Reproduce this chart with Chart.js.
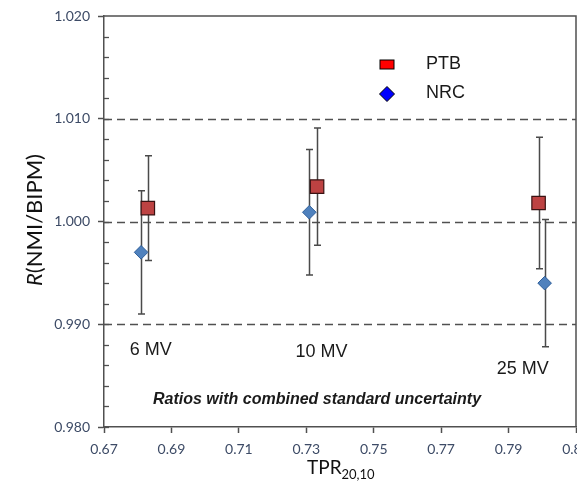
<!DOCTYPE html>
<html lang="en">
<head>
<meta charset="UTF-8">
<title>R(NMI/BIPM) vs TPR20,10</title>
<script src="https://cdn.jsdelivr.net/npm/chart.js"></script>
<style>
    html, body { margin: 0; padding: 0; background: #fff; overflow: hidden; }
</style>
</head>
<body>
<canvas id="ratioChart" width="577" height="491"></canvas>
<script>
// values
const beams = ['6 MV', '10 MV', '25 MV'];
const ptbTpr = [0.683, 0.7332, 0.7989];
const ptbRatio = [1.0013, 1.0034, 1.0018];
const ptbUnc = [0.0051, 0.0057, 0.0064];
const nrcTpr = [0.681, 0.7309, 0.8007];
const nrcRatio = [0.9970, 1.0009, 0.9940];
const nrcUnc = [0.0060, 0.0061, 0.0062];
const xTicks = [0.67, 0.69, 0.71, 0.73, 0.75, 0.77, 0.79, 0.81];
const yTicks = [0.980, 0.990, 1.000, 1.010, 1.020];

// where the beam names sit (data units)
const beamLabelX = [0.6839, 0.7345, 0.7942];
const beamLabelY = [0.9875, 0.9873, 0.9856];

const tickColor = '#3d4b66';
const axisColor = '#505050';

function toPoints(xs, ys) {
    return xs.map((x, i) => ({ x: x, y: ys[i] }));
}

const decorPlugin = {
    id: 'decor',
    beforeDatasetsDraw(chart) {
        const { ctx, chartArea: a, scales: { x, y } } = chart;
        ctx.save();

        // dashed reference lines at the inner major ticks
        ctx.strokeStyle = '#505050';
        ctx.lineWidth = 1.4;
        ctx.setLineDash([8, 5]);
        y.ticks.forEach(t => {
            if (t.value <= y.min + 1e-9 || t.value >= y.max - 1e-9) return;
            const py = Math.round(y.getPixelForValue(t.value)) + 0.5;
            ctx.beginPath();
            ctx.moveTo(a.left, py);
            ctx.lineTo(a.right, py);
            ctx.stroke();
        });
        ctx.setLineDash([]);

        // frame top and right
        ctx.strokeStyle = axisColor;
        ctx.lineWidth = 1.5;
        ctx.beginPath();
        ctx.moveTo(a.left, a.top);
        ctx.lineTo(a.right, a.top);
        ctx.lineTo(a.right, a.bottom);
        ctx.stroke();

        // minor ticks inside the y axis
        ctx.lineWidth = 1.3;
        for (let v = y.min; v < y.max; v += 0.002) {
            const py = Math.round(y.getPixelForValue(v)) + 0.5;
            ctx.beginPath();
            ctx.moveTo(a.left, py);
            ctx.lineTo(a.left + 5, py);
            ctx.stroke();
        }

        // error bars
        ctx.strokeStyle = '#4a4a4a';
        ctx.lineWidth = 1.5;
        chart.data.datasets.forEach(ds => {
            ds.data.forEach((p, j) => {
                const u = ds.errorBars[j];
                const px = Math.round(x.getPixelForValue(p.x)) + 0.5;
                const top = y.getPixelForValue(p.y + u);
                const bot = y.getPixelForValue(p.y - u);
                ctx.beginPath();
                ctx.moveTo(px, top);
                ctx.lineTo(px, bot);
                ctx.moveTo(px - 3.5, top);
                ctx.lineTo(px + 3.5, top);
                ctx.moveTo(px - 3.5, bot);
                ctx.lineTo(px + 3.5, bot);
                ctx.stroke();
            });
        });
        ctx.restore();
    },
    afterDraw(chart) {
        const { ctx, chartArea: a, scales: { x, y } } = chart;
        ctx.save();

        // x tick labels (drawn here so the last one may run off the edge)
        ctx.fillStyle = tickColor;
        ctx.font = '14px Lato, sans-serif';
        ctx.textAlign = 'center';
        ctx.textBaseline = 'middle';
        xTicks.forEach(v => {
            ctx.fillText(v.toFixed(2), x.getPixelForValue(v), 449);
        });

        // beam labels
        ctx.fillStyle = '#1a1a1a';
        ctx.font = '18px "Liberation Sans", Arial, sans-serif';
        beams.forEach((b, i) => {
            ctx.fillText(b, x.getPixelForValue(beamLabelX[i]), y.getPixelForValue(beamLabelY[i]));
        });

        // caption
        ctx.font = 'italic bold 16px "Liberation Sans", Arial, sans-serif';
        ctx.fillText('Ratios with combined standard uncertainty', 317, 400);

        // legend
        ctx.lineWidth = 1;
        ctx.strokeStyle = '#000';
        ctx.fillStyle = '#ff0000';
        ctx.fillRect(380, 60, 14, 9);
        ctx.strokeRect(380, 60, 14, 9);
        ctx.fillStyle = '#0000ff';
        ctx.beginPath();
        ctx.moveTo(387, 86.5);
        ctx.lineTo(394.5, 94);
        ctx.lineTo(387, 101.5);
        ctx.lineTo(379.5, 94);
        ctx.closePath();
        ctx.fill();
        ctx.stroke();
        ctx.fillStyle = '#1a1a1a';
        ctx.font = '18px "Liberation Sans", Arial, sans-serif';
        ctx.textAlign = 'left';
        ctx.fillText('PTB', 426, 64);
        ctx.fillText('NRC', 426, 93);

        // y title with italic R
        ctx.translate(35, 220);
        ctx.rotate(-Math.PI / 2);
        ctx.fillStyle = '#111';
        const italic = 'italic 22px Lato, sans-serif';
        const upright = '22px Lato, sans-serif';
        ctx.font = italic;
        const wR = ctx.measureText('R').width;
        ctx.font = upright;
        const wRest = ctx.measureText('(NMI/BIPM)').width;
        const sx = -(wR + wRest) / 2;
        ctx.textAlign = 'left';
        ctx.font = italic;
        ctx.fillText('R', sx, 0);
        ctx.font = upright;
        ctx.fillText('(NMI/BIPM)', sx + wR, 0);
        ctx.setTransform(1, 0, 0, 1, 0, 0);

        // x title with subscript
        ctx.font = '19px Lato, sans-serif';
        ctx.fillText('TPR', 307, 468);
        const wT = ctx.measureText('TPR').width;
        ctx.font = '13px Lato, sans-serif';
        ctx.fillText('20,10', 307 + wT, 475);
        ctx.restore();
    }
};

const chart = new Chart(document.getElementById('ratioChart'), {
    type: 'scatter',
    data: {
        datasets: [
            {
                label: 'NRC',
                data: toPoints(nrcTpr, nrcRatio),
                errorBars: nrcUnc,
                pointStyle: 'rectRot',
                pointRadius: 6.8,
                backgroundColor: '#4f81bd',
                borderColor: '#2f5f9a',
                borderWidth: 1
            },
            {
                label: 'PTB',
                data: toPoints(ptbTpr, ptbRatio),
                errorBars: ptbUnc,
                pointStyle: 'rect',
                pointRadius: 9.5,
                backgroundColor: '#bd4242',
                borderColor: '#3a1212',
                borderWidth: 1.2
            }
        ]
    },
    options: {
        responsive: false,
        animation: false,
        events: [],
        layout: { autoPadding: false, padding: { top: 16, right: 1, bottom: 0, left: 0 } },
        plugins: {
            legend: { display: false },
            tooltip: { enabled: false }
        },
        scales: {
            x: {
                type: 'linear',
                min: 0.67,
                max: 0.81,
                afterBuildTicks: s => { s.ticks = xTicks.map(v => ({ value: v })); },
                afterFit: s => { s.height = 64; },
                ticks: { display: false },
                grid: { drawOnChartArea: false, tickLength: 6, tickColor: axisColor, tickWidth: 1.5 },
                border: { color: axisColor, width: 1.5 }
            },
            y: {
                min: 0.98,
                max: 1.02,
                afterBuildTicks: s => { s.ticks = yTicks.map(v => ({ value: v })); },
                afterFit: s => { s.width = 104; s.paddingTop = 0; s.paddingBottom = 0; },
                ticks: {
                    callback: v => v.toFixed(3),
                    font: { family: 'Lato', size: 14 },
                    color: tickColor,
                    padding: 8
                },
                grid: { drawOnChartArea: false, tickLength: 6, tickColor: axisColor, tickWidth: 1.5 },
                border: { color: axisColor, width: 1.5 }
            }
        }
    },
    plugins: [decorPlugin]
});
</script>
</body>
</html>
